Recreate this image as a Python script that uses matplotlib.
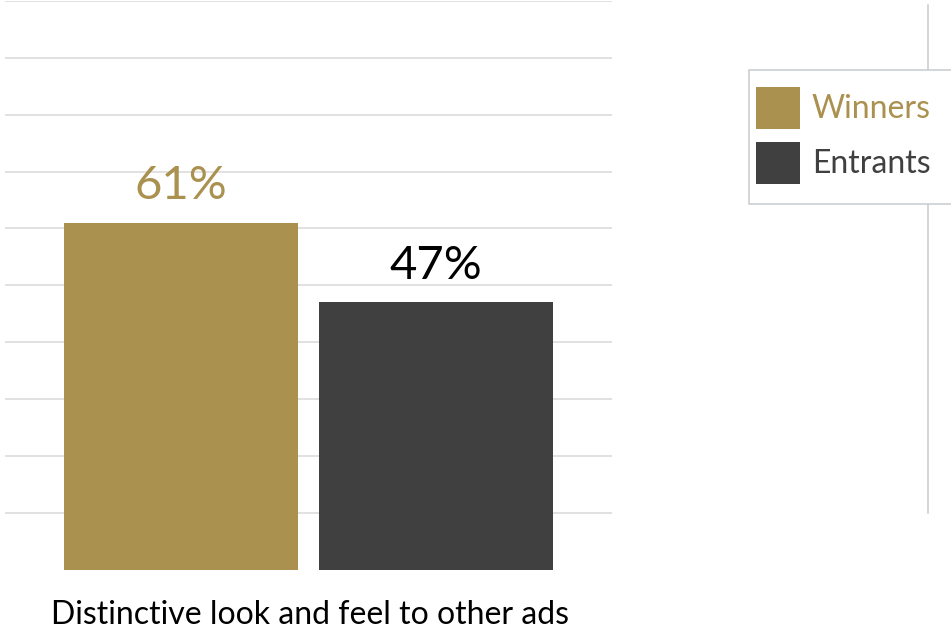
import matplotlib
matplotlib.use("Agg")
import matplotlib.pyplot as plt
from matplotlib.patches import Patch, Rectangle

# --- data ---
category = "Distinctive look and feel to other ads"
series = ["Winners", "Entrants"]
values = [61, 47]
colors = ["#aa914f", "#404040"]
label_colors = ["#aa914f", "#000000"]
legend_text_colors = ["#aa914f", "#404040"]
grid_ticks = [10, 20, 30, 40, 50, 60, 70, 80, 90, 100]

plt.rcParams["font.family"] = ["Lato", "DejaVu Sans"]

W, H = 951, 629
fig = plt.figure(figsize=(W / 100, H / 100), dpi=100)

# main axes, placed in pixel terms
left, right, top, bottom = 5, 612, 1, 569.5
ax = fig.add_axes([left / W, (H - bottom) / H, (right - left) / W, (bottom - top) / H])

offsets = [-0.21, 0.21]
bar_w = 0.385
for i, (name, v) in enumerate(zip(series, values)):
    b = ax.bar(offsets[i], v, width=bar_w, color=colors[i], label=name, zorder=2)
    ax.bar_label(b, labels=[f"{v}%"], padding=11, fontsize=34,
                 color=label_colors[i])

ax.set_xlim(-0.5, 0.5)
ax.set_ylim(0, 100)
ax.set_yticks(grid_ticks)
ax.yaxis.grid(True, color="#d9d9d9", linewidth=1.1, zorder=0)
ax.set_axisbelow(True)
ax.tick_params(axis="y", length=0, labelleft=False)
ax.set_xticks([0.002])
ax.set_xticklabels([category], fontsize=23, color="#000000")
ax.tick_params(axis="x", length=0, pad=22)
for s in ax.spines.values():
    s.set_visible(False)

# thin vertical rule on the right
rule = fig.add_axes([928 / W, (H - 513) / H, 0.0001, (513 - 5) / H])
rule.set_xticks([])
rule.set_yticks([])
for k, s in rule.spines.items():
    s.set_visible(k == "left")
rule.spines["left"].set_color("#c8ccd0")
rule.spines["left"].set_linewidth(1.1)
rule.patch.set_alpha(0)

# legend box (runs off the right edge)
box = Rectangle((749 / W, 1 - 204 / H), 220 / W, 134 / H,
                transform=fig.transFigure, facecolor="white",
                edgecolor="#c8ccd0", linewidth=1.1, zorder=3)
fig.add_artist(box)

handles = [Patch(facecolor=c, edgecolor="none") for c in colors]
leg = fig.legend(handles, series, loc="upper left",
                 bbox_to_anchor=(756 / W, 1 - 87 / H),
                 fontsize=23, frameon=False,
                 borderaxespad=0, borderpad=0,
                 handlelength=1.375, handleheight=1.65,
                 handletextpad=0.375, labelspacing=0.4)
leg.set_zorder(4)
for t, c in zip(leg.get_texts(), legend_text_colors):
    t.set_color(c)

fig.savefig("out.png", dpi=100)
